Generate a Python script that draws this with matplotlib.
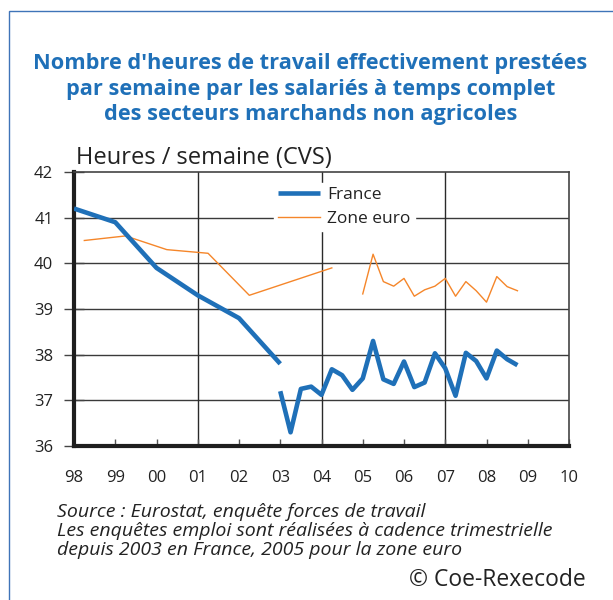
import matplotlib
matplotlib.use("Agg")
import matplotlib.pyplot as plt
from matplotlib.patches import Rectangle
import numpy as np

# France: annual points 1998-2003, then quarterly from 2003
fr_years = [1998, 1999, 2000, 2001, 2002, 2003]
fr_annual = [41.2, 40.9, 39.9, 39.3, 38.8, 37.8]
fr_q_start = 2003.0
fr_quarterly = [37.2, 36.3, 37.25, 37.3, 37.12, 37.68, 37.55, 37.23,
                37.48, 38.3, 37.46, 37.36, 37.85, 37.29, 37.39, 38.03,
                37.7, 37.1, 38.04, 37.86, 37.48, 38.09, 37.9, 37.77]

# Zone euro: annual points (mid-year) 1998-2004, then quarterly from 2005
ze_years = [1998.25, 1999.25, 2000.25, 2001.25, 2002.25, 2003.25, 2004.25]
ze_annual = [40.5, 40.6, 40.3, 40.22, 39.3, 39.6, 39.9]
ze_q_start = 2005.0
ze_quarterly = [39.33, 40.2, 39.6, 39.5, 39.67, 39.28, 39.42, 39.5,
                39.67, 39.28, 39.6, 39.4, 39.15, 39.71, 39.49, 39.4]

tick_years = list(range(1998, 2011))
tick_labels = ["98", "99", "00", "01", "02", "03", "04", "05", "06", "07", "08", "09", "10"]

blue = "#1f70b8"
orange = "#f5862a"
plt.rcParams["font.family"] = ["Open Sans", "DejaVu Sans"]

fig = plt.figure(figsize=(6.13, 6.0), dpi=100)
ax = fig.add_axes([74/613, 1-446/600, 495/613, 274/600])

fr_qx = fr_q_start + 0.25*np.arange(len(fr_quarterly))
ze_qx = ze_q_start + 0.25*np.arange(len(ze_quarterly))

ax.plot(ze_years, ze_annual, color=orange, lw=1.0, zorder=3, label="Zone euro")
ax.plot(ze_qx, ze_quarterly, color=orange, lw=1.0, zorder=3)
ax.plot(fr_years, fr_annual, color=blue, lw=3.3, zorder=4, label="France",
        solid_capstyle="butt")
ax.plot(fr_qx, fr_quarterly, color=blue, lw=3.3, zorder=4, solid_capstyle="butt")

ax.set_xlim(1998, 2010)
ax.set_ylim(36, 42)
ax.set_xticks(tick_years)
ax.set_xticklabels(tick_labels)
ax.set_yticks(range(36, 43))

# grid: all horizontal lines, verticals only at 01, 04, 07
for y in range(37, 42):
    ax.axhline(y, color="#3a3a3a", lw=1.0, zorder=1)
for x in [2001, 2004, 2007]:
    ax.axvline(x, color="#2a2a2a", lw=1.0, zorder=1)

ax.spines["left"].set_linewidth(3)
ax.spines["left"].set_color("#1e1e1e")
ax.spines["bottom"].set_linewidth(3)
ax.spines["bottom"].set_color("#1e1e1e")
ax.spines["top"].set_linewidth(1.2)
ax.spines["top"].set_color("#444444")
ax.spines["right"].set_linewidth(1.2)
ax.spines["right"].set_color("#444444")

ax.tick_params(axis="x", direction="in", length=5, width=1, color="#555555",
               labelsize=12, pad=17, labelcolor="#222222")
ax.tick_params(axis="y", direction="inout", length=14, width=1, color="#444444",
               labelsize=12, pad=8, labelcolor="#222222")

handles, labels = ax.get_legend_handles_labels()
leg = ax.legend(handles[::-1], labels[::-1], loc="upper left",
                bbox_to_anchor=((274-74)/495, (446-183)/274),
                frameon=True, fancybox=False, framealpha=1, edgecolor="white",
                fontsize=12.5, handlelength=2.4, handletextpad=0.4,
                borderpad=0.25, labelspacing=0.4, borderaxespad=0)
leg.set_zorder(5)
for t in leg.get_texts():
    t.set_color("#222222")

fig.text(76/613, 1-158/600, "Heures / semaine (CVS)", fontsize=17,
         color="#222222", va="center", ha="left")

fig.text(0.5 + 4/613, 1-89/600,
         "Nombre d'heures de travail effectivement prestées\n"
         "par semaine par les salariés à temps complet\n"
         "des secteurs marchands non agricoles",
         ha="center", va="center", fontsize=15.7, fontweight="bold",
         color=blue, linespacing=1.3)

fig.text(57/613, 1-531/600,
         "Source : Eurostat, enquête forces de travail\n"
         "Les enquêtes emploi sont réalisées à cadence trimestrielle\n"
         "depuis 2003 en France, 2005 pour la zone euro",
         ha="left", va="center", fontsize=14, style="italic",
         color="#222222", linespacing=1.1)

fig.text(586/613, 1-580/600, "© Coe-Rexecode", ha="right", va="center",
         fontsize=16.5, color="#222222")

# outer frame
fig.patches.append(Rectangle((9/613, -0.05), 1.1, 1-11/600+0.05,
                             transform=fig.transFigure, fill=False,
                             edgecolor="#3f74b8", lw=1.0))

fig.savefig("out.png", dpi=100)
